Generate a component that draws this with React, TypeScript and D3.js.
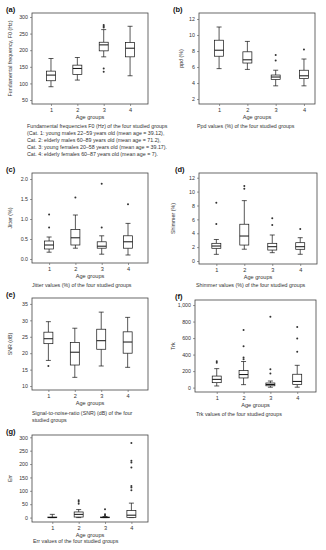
import { useEffect, useRef } from 'react';
import * as d3 from 'd3';

// five-number summaries per age group: [whiskerLow, Q1, median, Q3, whiskerHigh]
const groups = [1, 2, 3, 4];

const f0Stats = [[90, 108, 125, 137, 175], [110, 127, 145, 155, 178], [180, 198, 216, 224, 262], [123, 180, 206, 223, 272]];
const f0Outliers = [[], [], [135, 145, 268, 272, 276], []];

const ppdStats = [[5.8, 7.35, 8.1, 9.35, 11.0], [5.7, 6.5, 6.9, 7.9, 9.2], [3.65, 4.45, 4.75, 5.0, 5.6], [3.65, 4.55, 4.9, 5.6, 7.0]];
const ppdOutliers = [[], [], [6.8, 7.5], [8.2]];

const jitterStats = [[0.17, 0.25, 0.35, 0.45, 0.55], [0.27, 0.35, 0.53, 0.74, 1.1], [0.12, 0.27, 0.32, 0.43, 0.58], [0.1, 0.27, 0.43, 0.58, 0.89]];
const jitterOutliers = [[0.79, 1.11], [1.54], [0.79, 1.88], [1.37]];

const shimmerStats = [[0.96, 1.83, 2.16, 2.55, 3.1], [1.7, 2.3, 3.6, 5.3, 8.7], [1.2, 1.58, 2.06, 2.55, 3.75], [0.97, 1.69, 2.06, 2.64, 3.36]];
const shimmerOutliers = [[5.33, 8.4], [10.4, 10.8], [5.2, 6.15], [4.6]];

const snrStats = [[17.8, 22.9, 24.4, 26.4, 29.6], [12.65, 16.4, 20.3, 23.3, 27.6], [16.1, 21.2, 23.8, 27.3, 32.5], [15.7, 20.0, 23.4, 26.5, 30.9]];
const snrOutliers = [[16.1], [], [], []];

const trkStats = [[20, 60, 100, 140, 230], [36, 117, 158, 206, 316], [5, 22, 38, 56, 80], [5, 36, 75, 162, 270]];
const trkOutliers = [[300, 320], [344, 364, 500, 698], [170, 222, 858], [433, 595, 733]];

const errStats = [[0, 0, 0, 2, 12], [0, 2, 12, 21, 30], [0, 0, 0, 2, 4], [0, 0, 9, 26, 54]];
const errOutliers = [[], [52, 59, 65], [8, 12, 31], [102, 112, 118, 187, 206, 212, 279]];

const f0Ticks = [50, 100, 150, 200, 250, 300];
const ppdTicks = [2, 4, 6, 8, 10, 12];
const jitterTicks = [0, 0.5, 1.0, 1.5, 2.0];
const shimmerTicks = [0, 2, 4, 6, 8, 10, 12];
const snrTicks = [10, 15, 20, 25, 30, 35];
const trkTicks = [0, 200, 400, 600, 800, 1000];
const errTicks = [0, 50, 100, 150, 200, 250, 300];

const f0Caption = [
  'Fundamental frequencies F0 (Hz) of the four studied groups',
  '(Cat. 1: young males 22–59 years old (mean age = 39.12),',
  'Cat. 2: elderly males 60–89 years old (mean age = 71.2),',
  'Cat. 3: young females 20–58 years old (mean age = 39.17).',
  'Cat. 4: elderly females 60–87 years old (mean age = 7).',
];

interface Panel {
  tag: string;
  yTitle: string;
  stats: number[][];
  outliers: number[][];
  ticks: number[];
  fmt: (v: number) => string;
  caption: string[];
  frame: [number, number, number, number];
  xDomain: [number, number];
  yDomain: [number, number];
  tagX: number;
  titleX: number;
  capX: number;
  capY: number;
}

const panels: Panel[] = [
  { tag: '(a)', yTitle: 'Fundamental frequency, F0 (Hz)', stats: f0Stats, outliers: f0Outliers, ticks: f0Ticks, fmt: d3.format('d'),
    caption: f0Caption, frame: [32, 13, 148, 104], xDomain: [0.28, 4.68], yDomain: [38, 312], tagX: 6, titleX: 12, capX: 27, capY: 128 },
  { tag: '(b)', yTitle: 'ppd (%)', stats: ppdStats, outliers: ppdOutliers, ticks: ppdTicks, fmt: d3.format('d'),
    caption: ['Ppd  values (%) of the four studied groups'], frame: [199, 13, 315, 104], xDomain: [0.29, 4.39], yDomain: [1.38, 12.75], tagX: 173, titleX: 183, capX: 197, capY: 128 },
  { tag: '(c)', yTitle: 'Jitter (%)', stats: jitterStats, outliers: jitterOutliers, ticks: jitterTicks, fmt: d3.format('.1f'),
    caption: ['Jitter values (%) of the four studied groups'], frame: [32, 173, 148, 263], xDomain: [0.35, 4.76], yDomain: [-0.1, 2.15], tagX: 6, titleX: 12, capX: 32, capY: 287 },
  { tag: '(d)', yTitle: 'Shimmer (%)', stats: shimmerStats, outliers: shimmerOutliers, ticks: shimmerTicks, fmt: d3.format('d'),
    caption: ['Shimmer values (%) of the four studied groups'], frame: [199, 173, 317, 264], xDomain: [0.38, 4.6], yDomain: [-0.43, 12.68], tagX: 175, titleX: 175, capX: 196, capY: 287 },
  { tag: '(e)', yTitle: 'SNR (dB)', stats: snrStats, outliers: snrOutliers, ticks: snrTicks, fmt: d3.format('d'),
    caption: ['Signal-to-noise-ratio (SNR) (dB) of the four', 'studied groups'], frame: [32, 298, 148, 390], xDomain: [0.38, 4.77], yDomain: [8.8, 36.8], tagX: 6, titleX: 12, capX: 32, capY: 415 },
  { tag: '(f)', yTitle: 'Trk', stats: trkStats, outliers: trkOutliers, ticks: trkTicks, fmt: d3.format(','),
    caption: ['Trk values of the four studied groups'], frame: [195, 300, 316, 392], xDomain: [0.19, 4.7], yDomain: [-53, 1061], tagX: 175, titleX: 175, capX: 196, capY: 416 },
  { tag: '(g)', yTitle: 'Err', stats: errStats, outliers: errOutliers, ticks: errTicks, fmt: d3.format('d'),
    caption: ['Err  values of the four studied groups'], frame: [32, 435, 148, 522], xDomain: [0.23, 4.63], yDomain: [-16.5, 308.6], tagX: 6, titleX: 12, capX: 33, capY: 543 },
];

const FONT = 'Liberation Sans, Arial, sans-serif';

export default function App() {
  const svgRef = useRef<SVGSVGElement | null>(null);

  useEffect(() => {
    if (!svgRef.current) return;
    const svg = d3.select(svgRef.current);
    svg.selectAll('*').remove();
    svg.append('rect').attr('width', 326).attr('height', 550).attr('fill', '#fff');

    panels.forEach((p) => {
      const [x0, y0, x1, y1] = p.frame;
      const x = d3.scaleLinear().domain(p.xDomain).range([x0, x1]);
      const y = d3.scaleLinear().domain(p.yDomain).range([y1, y0]);
      const g = svg.append('g').attr('font-family', FONT);

      // panel tag
      g.append('text').attr('x', p.tagX).attr('y', y0 - 1).attr('font-size', 7.5).attr('font-weight', 'bold')
        .attr('fill', '#111').text(p.tag);

      // frame
      g.append('rect').attr('x', x0).attr('y', y0).attr('width', x1 - x0).attr('height', y1 - y0)
        .attr('fill', 'none').attr('stroke', '#444').attr('stroke-width', 0.8);

      // y axis
      const ya = g.append('g').attr('transform', `translate(${x0},0)`)
        .call(d3.axisLeft(y).tickValues(p.ticks).tickFormat((d) => p.fmt(d as number)).tickSize(2).tickPadding(2));
      ya.select('.domain').remove();
      ya.selectAll('line').attr('stroke', '#555').attr('stroke-width', 0.6);
      ya.selectAll('text').attr('font-size', 5.3).attr('fill', '#333').attr('font-family', FONT);

      // x axis
      const xa = g.append('g').attr('transform', `translate(0,${y1})`)
        .call(d3.axisBottom(x).tickValues(groups).tickFormat((d) => String(d)).tickSize(2).tickPadding(2));
      xa.select('.domain').remove();
      xa.selectAll('line').attr('stroke', '#555').attr('stroke-width', 0.6);
      xa.selectAll('text').attr('font-size', 5.6).attr('fill', '#333').attr('font-family', FONT);

      g.append('text').attr('x', (x0 + x1) / 2).attr('y', y1 + 14.5).attr('text-anchor', 'middle')
        .attr('font-size', 5.6).attr('fill', '#333').text('Age groups');

      g.append('text').attr('transform', `translate(${p.titleX},${(y0 + y1) / 2}) rotate(-90)`)
        .attr('text-anchor', 'middle').attr('font-size', 5.3).attr('fill', '#333').text(p.yTitle);

      // boxes
      const bw = 9;
      const cw = 5;
      p.stats.forEach((s, i) => {
        const cx = x(groups[i]);
        const [lo, q1, med, q3, hi] = s;
        const bg = g.append('g').attr('stroke', '#111').attr('stroke-width', 0.7).attr('fill', 'none');
        bg.append('line').attr('x1', cx).attr('x2', cx).attr('y1', y(hi)).attr('y2', y(q3));
        bg.append('line').attr('x1', cx).attr('x2', cx).attr('y1', y(q1)).attr('y2', y(lo));
        bg.append('line').attr('x1', cx - cw / 2).attr('x2', cx + cw / 2).attr('y1', y(hi)).attr('y2', y(hi));
        bg.append('line').attr('x1', cx - cw / 2).attr('x2', cx + cw / 2).attr('y1', y(lo)).attr('y2', y(lo));
        bg.append('rect').attr('x', cx - bw / 2).attr('width', bw).attr('y', y(q3))
          .attr('height', Math.max(0.5, y(q1) - y(q3))).attr('fill', '#fff');
        bg.append('line').attr('x1', cx - bw / 2).attr('x2', cx + bw / 2).attr('y1', y(med)).attr('y2', y(med))
          .attr('stroke-width', 1);
        p.outliers[i].forEach((o) => {
          g.append('circle').attr('cx', cx).attr('cy', y(o)).attr('r', 1).attr('fill', '#333');
        });
      });

      // caption
      p.caption.forEach((line, i) => {
        g.append('text').attr('x', p.capX).attr('y', p.capY + i * 7).attr('font-size', 5.3)
          .attr('fill', '#333').text(line);
      });
    });
  }, []);

  return (
    <svg ref={svgRef} width={326} height={550} style={{ position: 'absolute', left: 0, top: 0 }}></svg>
  );
}
